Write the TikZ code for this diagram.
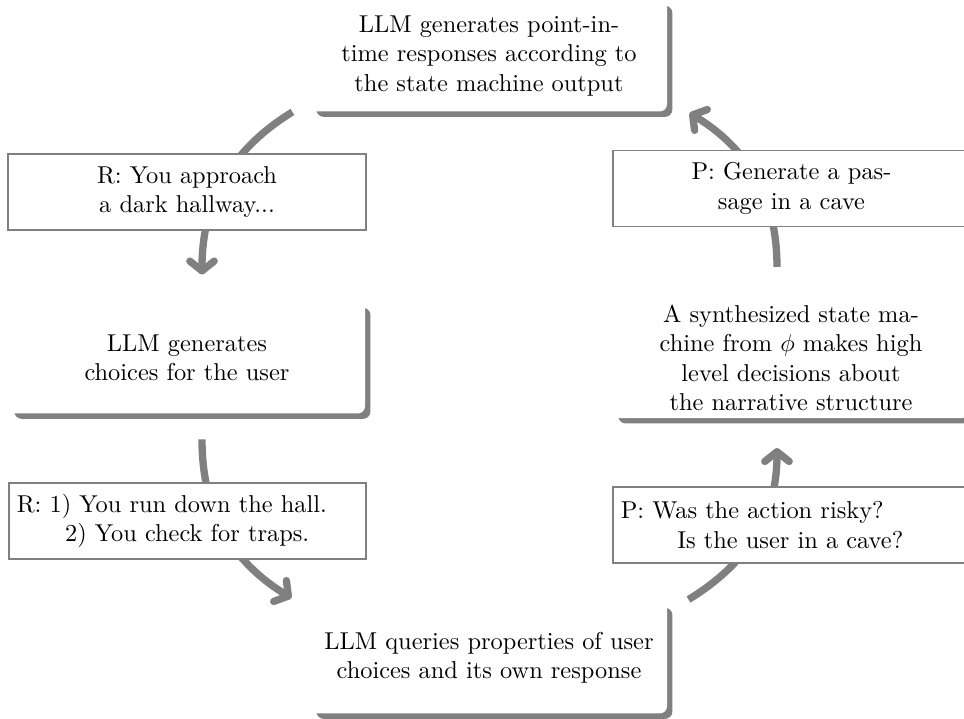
\documentclass[tikz,border=0pt]{standalone}
\usetikzlibrary{shadows,arrows.meta,calc}
\definecolor{arrgray}{gray}{0.5}
\tikzset{
  bignode/.style={fill=white, rounded corners=3pt, minimum width=146pt, minimum height=45.5pt,
    align=center, inner sep=3pt,
    drop shadow={shadow xshift=2.2pt, shadow yshift=-2.2pt, fill=arrgray, opacity=1}},
  labelbox/.style={draw=arrgray, line width=0.7pt, fill=white, text width=140pt,
    minimum height=31.2pt, inner xsep=3.3pt},
  flowarrow/.style={draw=arrgray, line width=3pt,
    -{Straight Barb[length=4pt,width=10pt,round]}}
}
\begin{document}
\begin{tikzpicture}[x=0.41pt,y=0.41pt]
\useasboundingbox (0,0) rectangle (964,719);
% main nodes
\node[bignode] (top) at (489,663) {LLM generates point-in-\\time responses according to\\the state machine output};
\node[bignode] (left) at (187,361) {LLM generates\\choices for the user};
\node[bignode] (bottom) at (489,61) {LLM queries properties of user\\choices and its own response};
\node[bignode] (right) at (791,361) {A synthesized state ma-\\chine from $\phi$ makes high\\level decisions about\\the narrative structure};
% connectors
\draw[flowarrow] ($(top.south west)+(-18,0)$) to[out=211.5,in=90] ($(left.north)+(15,27.5)$);
\draw[flowarrow] ($(left.south)+(15,-25.5)$) to[out=270,in=148.5] ($(bottom.north west)+(-19,4)$);
\draw[flowarrow] ($(bottom.north east)+(21,2.5)$) to[out=31.5,in=270] ($(right.south)+(-14,-29.5)$);
\draw[flowarrow] ($(right.north)+(-14,30.5)$) to[out=90,in=-31.5] ($(top.south east)+(22,-1)$);
% label boxes on the connectors
\node[labelbox, align=center] (r1) at (187,527) {R: You approach\\a dark hallway...};
\node[labelbox, align=left] (r2) at (187.5,198) {R: 1) You run down the hall.\\\hspace*{19.8pt}2) You check for traps.};
\node[labelbox, align=center] (p1) at (791.5,530.5) {P: Generate a pas-\\sage in a cave};
\node[labelbox, align=left] (p2) at (791.5,194) {P: Was the action risky?\\\hspace*{23.2pt}Is the user in a cave?};
\end{tikzpicture}
\end{document}
